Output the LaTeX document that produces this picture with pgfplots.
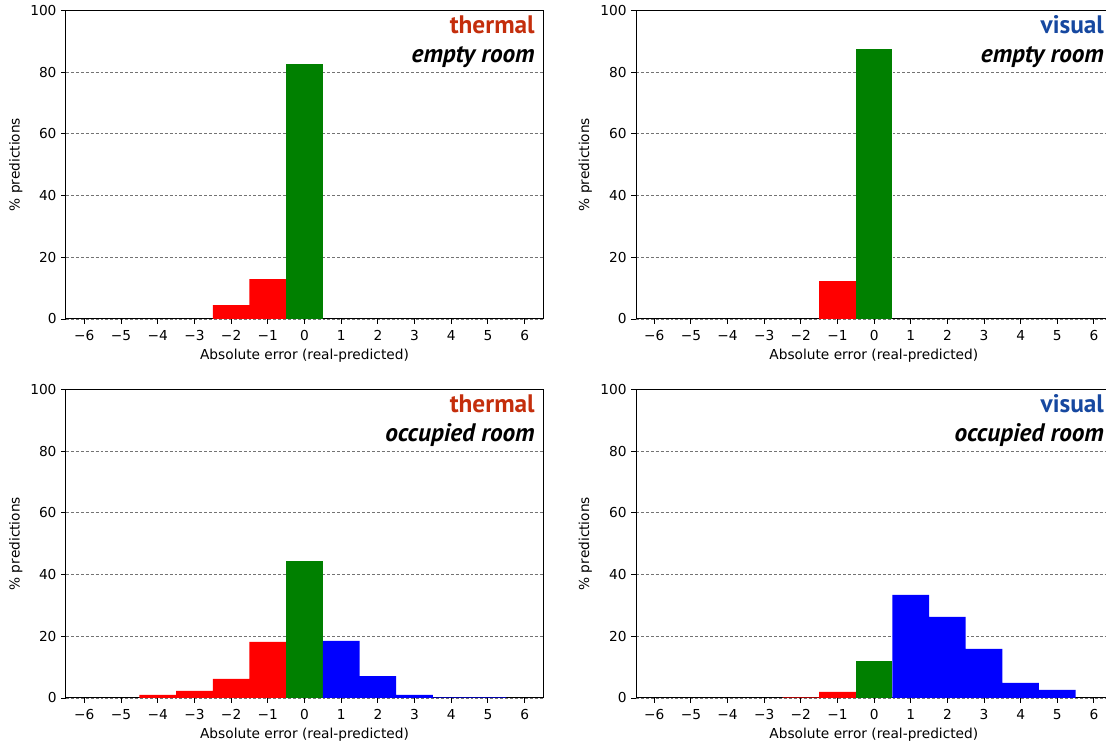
\documentclass[border=0pt]{standalone}
\usepackage{pgfplots}
\pgfplotsset{compat=1.18}
\usepackage{fontspec}
\setmainfont{DejaVu Sans}
\newfontfamily\titlefont{PT Sans}
\definecolor{thermalc}{RGB}{196,46,12}
\definecolor{visualc}{RGB}{22,72,160}
\definecolor{barred}{RGB}{255,0,0}
\definecolor{bargreen}{RGB}{0,128,0}
\definecolor{barblue}{RGB}{0,0,255}
\pgfplotsset{
  panel/.style={
    scale only axis,
    height=231.5pt,
    ymin=0, ymax=100,
    xmin=-6.5,
    ytick={0,20,40,60,80,100},
    xtick={-6,-5,-4,-3,-2,-1,0,1,2,3,4,5,6},
    xticklabels={−6,−5,−4,−3,−2,−1,0,1,2,3,4,5,6},
    tick align=outside,
    xtick pos=bottom, ytick pos=left,
    major tick length=3.6pt,
    tick style={black, line width=0.7pt},
    axis line style={line width=0.75pt},
    ymajorgrids,
    grid style={dash pattern=on 2.2pt off 1.5pt, black!55, line width=0.7pt},
    /pgf/number format/assume math mode=true,
    tick label style={font=\fontsize{10.3}{12}\selectfont},
    xticklabel style={yshift=-1.2pt},
    label style={font=\fontsize{10.3}{12}\selectfont},
    ylabel={\% predictions},
    xlabel={Absolute error (real-predicted)},
    every axis plot/.append style={ybar, bar width=1, bar shift=0pt, draw=none},
    clip=false,
  },
}
\newcommand{\ttl}[3]{%
  \node[anchor=base east, inner sep=0pt, text=#1, font=\titlefont\fontsize{19}{22}\selectfont\bfseries] at (axis cs:6.28,92.6) {#2};
  \node[anchor=base east, inner sep=0pt, font=\titlefont\fontsize{19}{22}\selectfont\bfseries\itshape] at (axis cs:6.28,83.2) {#3};
}
\begin{document}
\begin{tikzpicture}
\useasboundingbox (0,0) rectangle (830.25pt,559.5pt);
% top-left
\begin{axis}[panel, at={(49.5pt,320.25pt)}, anchor=south west, width=357.75pt, xmax=6.5,
  ylabel style={at={(axis description cs:-0.105,0.5)}, anchor=center},
  xlabel style={at={(axis description cs:0.5,-0.119)}, anchor=center}]
\addplot[fill=barred] coordinates {(-2,4.5) (-1,12.9)};
\addplot[fill=bargreen] coordinates {(0,82.7)};
\ttl{thermalc}{thermal}{empty room}
\end{axis}
% top-right
\begin{axis}[panel, at={(477pt,320.25pt)}, anchor=south west, width=352.5pt, xmax=6.33,
  axis y line*=left,
  ylabel style={at={(axis description cs:-0.108,0.5)}, anchor=center},
  xlabel style={at={(axis description cs:0.506,-0.119)}, anchor=center}]
\addplot[fill=barred] coordinates {(-1,12.3)};
\addplot[fill=bargreen] coordinates {(0,87.6)};
\ttl{visualc}{visual}{empty room}
\end{axis}
% bottom-left
\begin{axis}[panel, at={(49.5pt,36pt)}, anchor=south west, width=357.75pt, xmax=6.5,
  ylabel style={at={(axis description cs:-0.105,0.5)}, anchor=center},
  xlabel style={at={(axis description cs:0.5,-0.119)}, anchor=center}]
\addplot[fill=barred] coordinates {(-4,1.0) (-3,2.3) (-2,6.2) (-1,18.2)};
\addplot[fill=bargreen] coordinates {(0,44.4)};
\addplot[fill=barblue] coordinates {(1,18.5) (2,7.1) (3,1.0) (4,0.2) (5,0.2)};
\ttl{thermalc}{thermal}{occupied room}
\end{axis}
% bottom-right
\begin{axis}[panel, at={(477pt,36pt)}, anchor=south west, width=352.5pt, xmax=6.33,
  axis y line*=left,
  ylabel style={at={(axis description cs:-0.108,0.5)}, anchor=center},
  xlabel style={at={(axis description cs:0.506,-0.119)}, anchor=center}]
\addplot[fill=barred] coordinates {(-2,0.2) (-1,2.0)};
\addplot[fill=bargreen] coordinates {(0,12.1)};
\addplot[fill=barblue] coordinates {(1,33.4) (2,26.3) (3,15.9) (4,4.9) (5,2.6)};
\ttl{visualc}{visual}{occupied room}
\end{axis}
\end{tikzpicture}
\end{document}
